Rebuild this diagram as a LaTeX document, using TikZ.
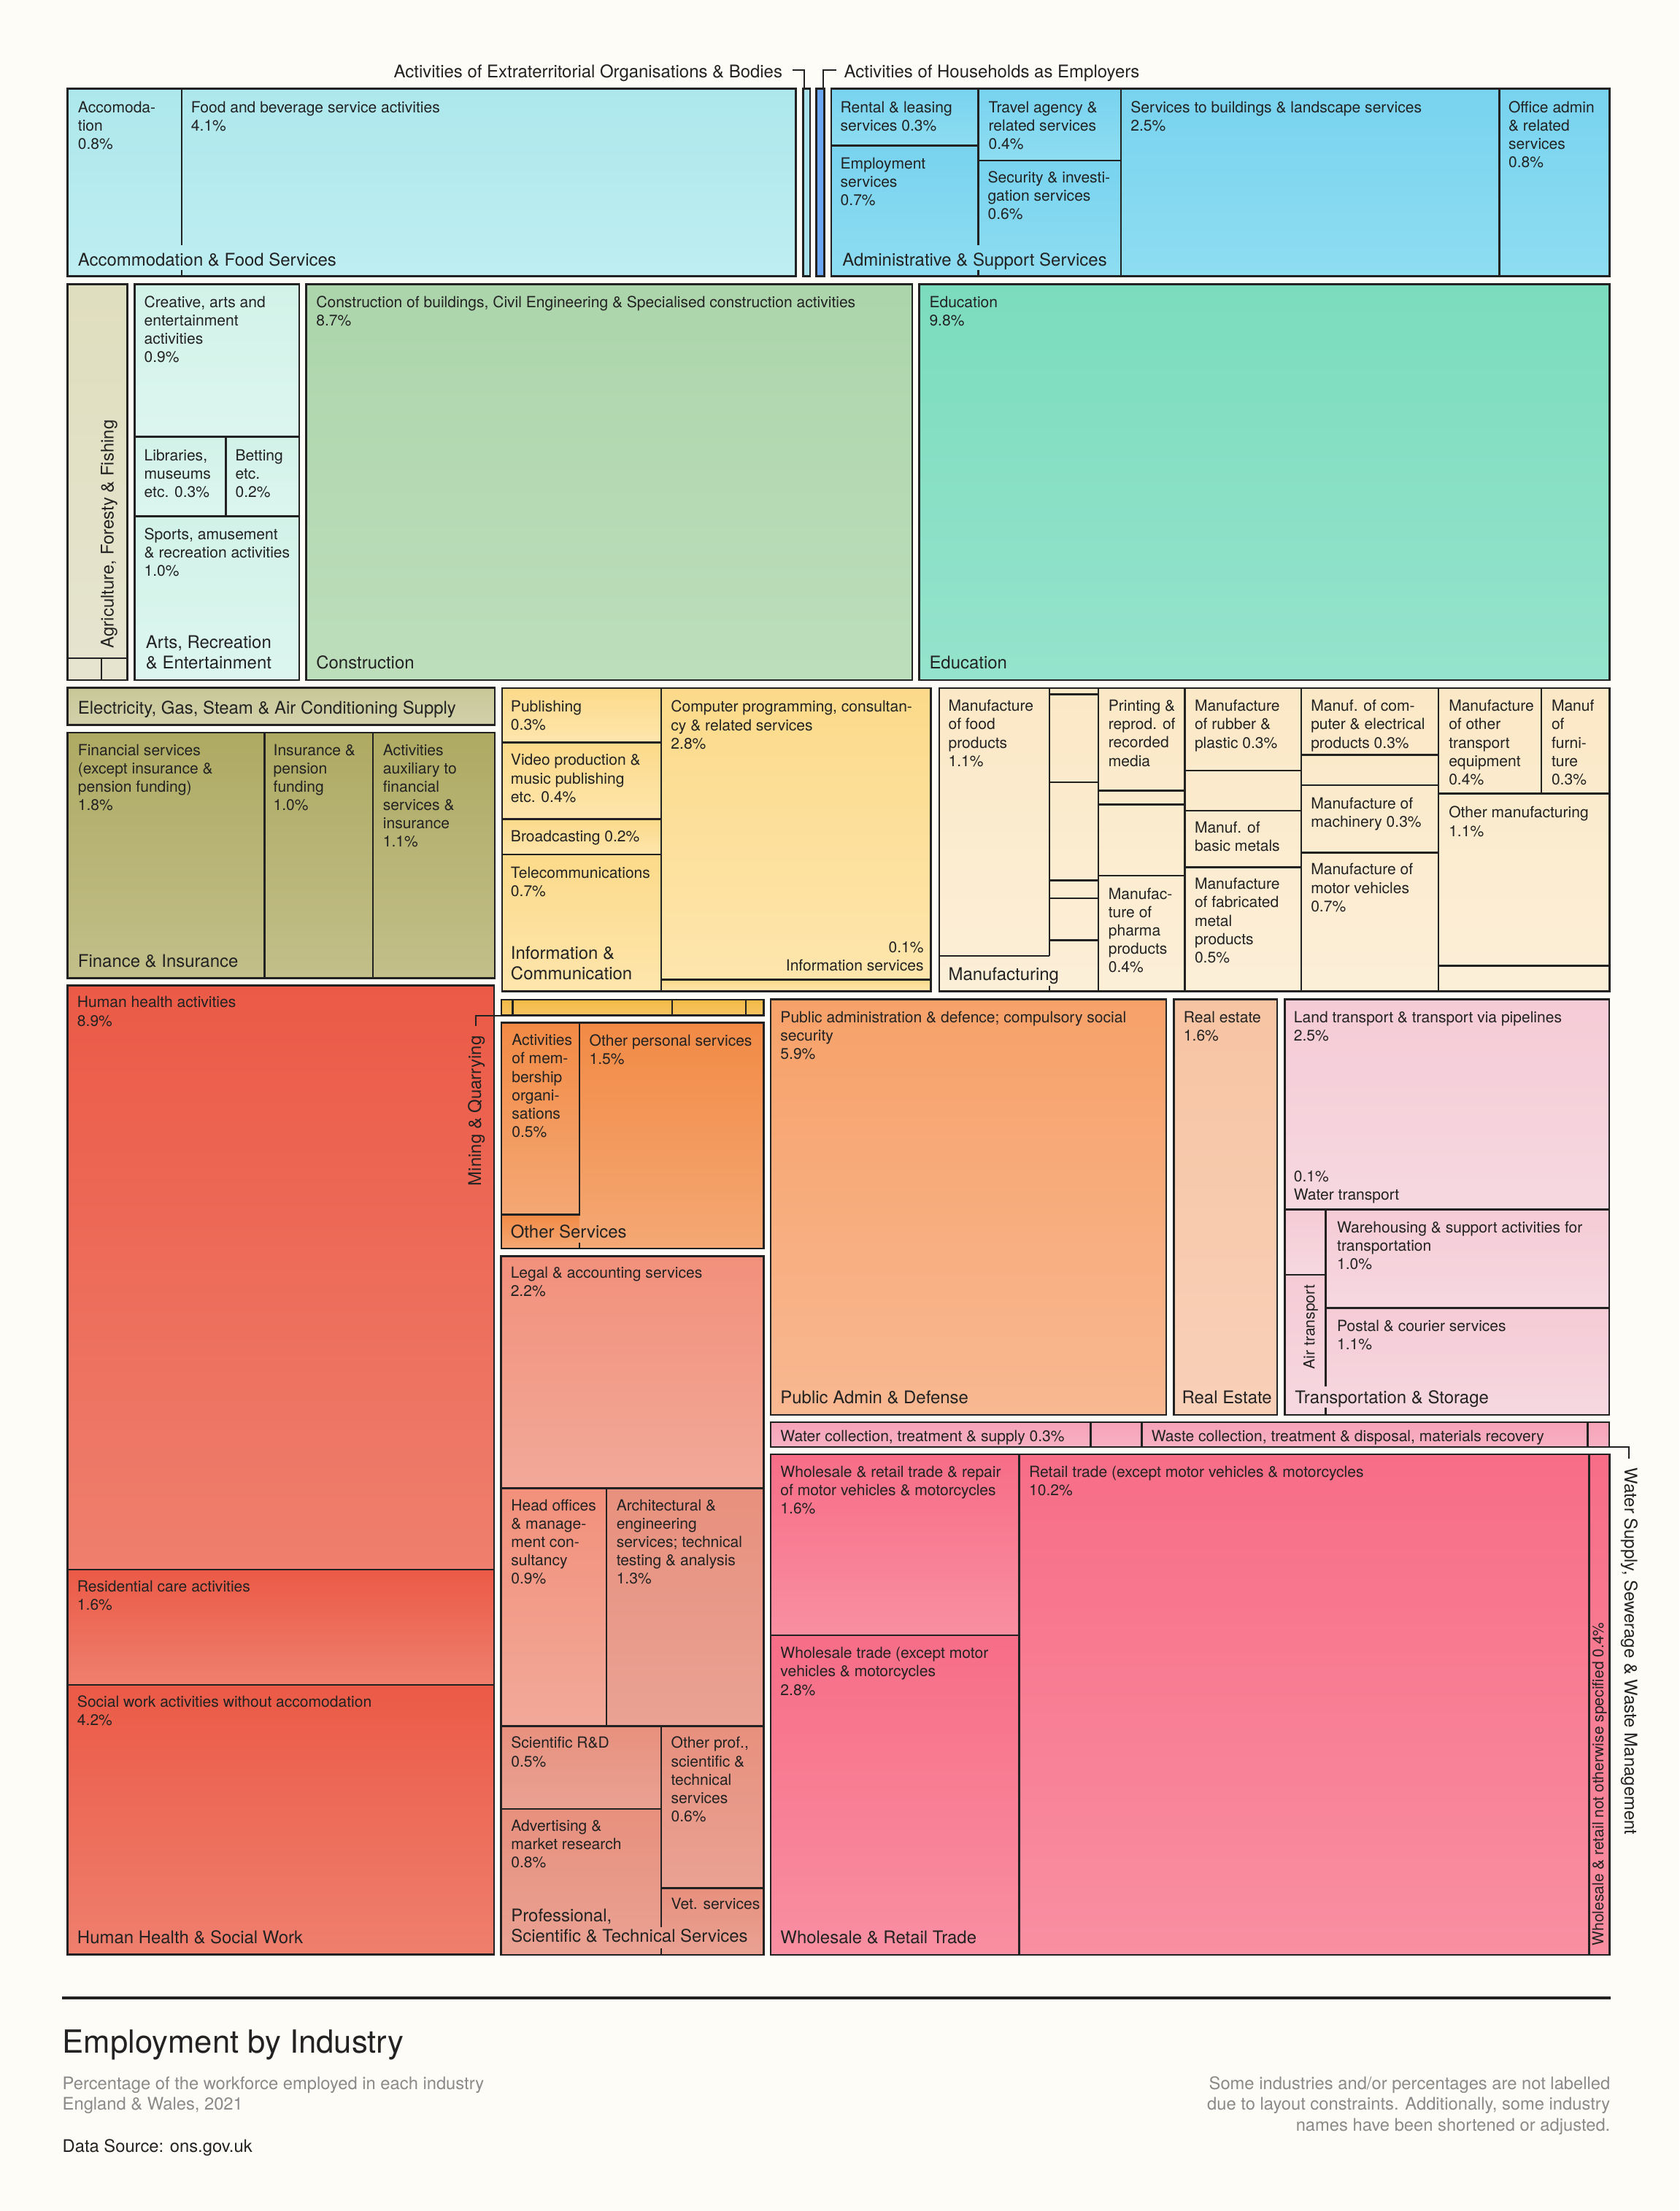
\documentclass[tikz,border=0pt]{standalone}
\usepackage{fontspec}
\setmainfont{TeX Gyre Heros}
\usepackage{xcolor}
\usepackage{tikz}
\usetikzlibrary{positioning}

\definecolor{paper}{HTML}{FDFCF6}
\definecolor{ink}{HTML}{222222}
\definecolor{note}{HTML}{8A8A8A}
\definecolor{accT}{HTML}{ADE7EC}
\definecolor{accB}{HTML}{BEEEF1}
\definecolor{extra}{HTML}{A8E2EC}
\definecolor{house}{HTML}{6BA6F2}
\definecolor{admT}{HTML}{78D3EF}
\definecolor{admB}{HTML}{8EDDF1}
\definecolor{agrT}{HTML}{DFDEBE}
\definecolor{agrB}{HTML}{E6E4CF}
\definecolor{artT}{HTML}{D2F2E8}
\definecolor{artB}{HTML}{DCF6EF}
\definecolor{conT}{HTML}{ACD5AB}
\definecolor{conB}{HTML}{BDDEBB}
\definecolor{eduT}{HTML}{7BDCBD}
\definecolor{eduB}{HTML}{95E3CC}
\definecolor{eleT}{HTML}{C9C899}
\definecolor{eleB}{HTML}{D1D0A9}
\definecolor{finT}{HTML}{AEAA63}
\definecolor{finB}{HTML}{C2BF8A}
\definecolor{infT}{HTML}{FCDA8A}
\definecolor{infB}{HTML}{FDE5AC}
\definecolor{manT}{HTML}{FBE8C6}
\definecolor{manB}{HTML}{FCEFD8}
\definecolor{minT}{HTML}{F3BA45}
\definecolor{minB}{HTML}{F5C463}
\definecolor{othT}{HTML}{F28A45}
\definecolor{othB}{HTML}{F4A874}
\definecolor{proT}{HTML}{F2907B}
\definecolor{proB}{HTML}{F2A999}
\definecolor{prbT}{HTML}{E8907E}
\definecolor{prbB}{HTML}{E9A293}
\definecolor{pubT}{HTML}{F7A169}
\definecolor{pubB}{HTML}{F8B891}
\definecolor{reaT}{HTML}{F7C4A3}
\definecolor{reaB}{HTML}{F8D0B8}
\definecolor{traT}{HTML}{F5CBD6}
\definecolor{traB}{HTML}{F6D8E0}
\definecolor{watT}{HTML}{F6A2B7}
\definecolor{watB}{HTML}{F8B2C3}
\definecolor{whoT}{HTML}{F76D87}
\definecolor{whoB}{HTML}{F98FA2}
\definecolor{heaT}{HTML}{EB5A46}
\definecolor{heaB}{HTML}{EF7F6E}

\begin{document}
\begin{tikzpicture}[x=1pt,y=-1pt,
  box/.style={draw=ink,line width=1.3pt},
  lead/.style={draw=ink,line width=1.1pt},
  leaftxt/.style={anchor=north west,inner sep=0pt,align=left,text=ink,font=\fontsize{10.9}{13}\selectfont},
  grptxt/.style={anchor=north west,inner sep=0pt,align=left,text=ink,font=\fontsize{12.4}{14.5}\selectfont},
  sidetxt/.style={inner sep=0pt,text=ink,font=\fontsize{12.4}{14.5}\selectfont},
  foot/.style={inner sep=0pt,text=note,font=\fontsize{12.3}{14.7}\selectfont},
  accom/.style={top color=accT,bottom color=accB},
  admin/.style={top color=admT,bottom color=admB},
  agri/.style={top color=agrT,bottom color=agrB},
  arts/.style={top color=artT,bottom color=artB},
  constr/.style={top color=conT,bottom color=conB},
  educ/.style={top color=eduT,bottom color=eduB},
  elec/.style={top color=eleT,bottom color=eleB},
  finan/.style={top color=finT,bottom color=finB},
  infor/.style={top color=infT,bottom color=infB},
  manuf/.style={top color=manT,bottom color=manB},
  mining/.style={top color=minT,bottom color=minB},
  others/.style={top color=othT,bottom color=othB},
  profA/.style={top color=proT,bottom color=proB},
  profB/.style={top color=prbT,bottom color=prbB},
  pubad/.style={top color=pubT,bottom color=pubB},
  realest/.style={top color=reaT,bottom color=reaB},
  transp/.style={top color=traT,bottom color=traB},
  water/.style={top color=watT,bottom color=watB},
  trade/.style={top color=whoT,bottom color=whoB},
  health/.style={top color=heaT,bottom color=heaB}]
\useasboundingbox (0,0) rectangle (1192,1569.6);
\fill[paper] (0,0) rectangle (1192,1569.6);

% accommodation & food
\shade[accom] (48,63) rectangle (129,196);
\shade[accom] (129,63) rectangle (565,196);
\draw[box] (129,63) -- (129,174.2) (129,191.5) -- (129,196);
\draw[box] (48,63) rectangle (565,196);
\node[leaftxt] (acc-room) at (55.2,71.7) {Accomoda-\\tion\\0.8\%};
\node[leaftxt] (acc-food) at (135.5,71.7) {Food and beverage service activities\\4.1\%};
\node[grptxt] (acc) at (55.2,179.2) {Accommodation \& Food Services};

% extraterritorial + households
\draw[box,fill=extra] (570,63) rectangle (575,196);
\draw[box,fill=house] (579.5,63) rectangle (585,196);
\node[sidetxt,anchor=north east] (extra) at (555.5,45.8) {Activities of Extraterritorial Organisations \& Bodies};
\node[sidetxt,anchor=north west] (house) at (599,45.8) {Activities of Households as Employers};
\coordinate (extra-end) at (562.5,49.9);
\coordinate (extra-bar) at (571,63);
\coordinate (house-end) at (593.4,49.9);
\coordinate (house-bar) at (584.5,63);
\draw[lead] (extra-end) -| (extra-bar);
\draw[lead] (house-end) -| (house-bar);

% administrative & support
\shade[admin] (590,63) rectangle (694.3,103.4);
\shade[admin] (590,103.4) rectangle (694.3,196);
\shade[admin] (694.3,63) rectangle (795.7,114);
\shade[admin] (694.3,114) rectangle (795.7,196);
\shade[admin] (795.7,63) rectangle (1064.2,196);
\shade[admin] (1064.2,63) rectangle (1142.5,196);
\draw[box] (590,103.4) -- (694.3,103.4) (694.3,114) -- (795.7,114) (795.7,63) -- (795.7,196) (1064.2,63) -- (1064.2,196)
  (694.3,63) -- (694.3,174.2) (694.3,191.5) -- (694.3,196);
\draw[box] (590,63) rectangle (1142.5,196);
\node[leaftxt] (adm-rent) at (596.4,71.7) {Rental \& leasing\\services 0.3\%};
\node[leaftxt] (adm-employ) at (596.4,111.9) {Employment\\services\\0.7\%};
\node[leaftxt] (adm-travel) at (701.5,71.7) {Travel agency \&\\related services\\0.4\%};
\node[leaftxt] (adm-secure) at (701,121.4) {Security \& investi-\\gation services\\0.6\%};
\node[leaftxt] (adm-build) at (802.4,71.7) {Services to buildings \& landscape services\\2.5\%};
\node[leaftxt] (adm-office) at (1070.6,71.7) {Office admin\\\& related\\services\\0.8\%};
\node[grptxt] (adm) at (597.8,179.2) {Administrative \& Support Services};

% agriculture
\draw[box,agri] (48,201.7) rectangle (90.3,482.9);
\draw[box] (48,467.3) -- (90.3,467.3) (71.9,467.3) -- (71.9,482.9);
\node[sidetxt,rotate=90,anchor=west] (agr) at (77.4,460.3) {Agriculture, Foresty \& Fishing};

% arts, recreation & entertainment
\draw[box,arts] (95.6,201.7) rectangle (212.3,310);
\draw[box,arts] (95.6,310) rectangle (160.3,366.5);
\draw[box,arts] (160.3,310) rectangle (212.3,366.5);
\draw[box,arts] (95.6,366.5) rectangle (212.3,482.9);
\node[leaftxt] (art-creative) at (102.2,210) {Creative, arts and\\entertainment\\activities\\0.9\%};
\node[leaftxt] (art-library) at (102.2,318.9) {Libraries,\\museums\\etc. 0.3\%};
\node[leaftxt] (art-betting) at (166.9,318.9) {Betting\\etc.\\0.2\%};
\node[leaftxt] (art-sports) at (102.2,374.8) {Sports, amusement\\\& recreation activities\\1.0\%};
\node[grptxt] (art) at (103.4,451) {Arts, Recreation\\\& Entertainment};

% construction
\draw[box,constr] (217.3,201.7) rectangle (647.5,482.9);
\node[leaftxt] (con-build) at (224.3,210) {Construction of buildings, Civil Engineering \& Specialised construction activities\\8.7\%};
\node[grptxt] (con) at (224.3,465.5) {Construction};

% education
\draw[box,educ] (652.5,201.7) rectangle (1142.5,482.9);
\node[leaftxt] (edu-all) at (659.5,210) {Education\\9.8\%};
\node[grptxt] (edu) at (659.5,465.5) {Education};

% electricity
\draw[box,elec] (48,488.3) rectangle (351.1,514.6);
\node[grptxt] (ele) at (55.2,497.6) {Electricity, Gas, Steam \& Air Conditioning Supply};

% finance & insurance
\draw[box,finan] (48,520.1) rectangle (187.8,694.5);
\draw[box,finan] (187.8,520.1) rectangle (264.8,694.5);
\draw[box,finan] (264.8,520.1) rectangle (351.1,694.5);
\node[leaftxt] (fin-serv) at (55.2,528.2) {Financial services\\(except insurance \&\\pension funding)\\1.8\%};
\node[leaftxt] (fin-ins) at (193.9,528.2) {Insurance \&\\pension\\funding\\1.0\%};
\node[leaftxt] (fin-aux) at (271.7,528.2) {Activities\\auxiliary to\\financial\\services \&\\insurance\\1.1\%};
\node[grptxt] (fin) at (55.2,677.6) {Finance \& Insurance};

% information & communication
\draw[box,infor] (356.4,488.5) rectangle (469.2,527);
\draw[box,infor] (356.4,527) rectangle (469.2,581.4);
\draw[box,infor] (356.4,581.4) rectangle (469.2,606.6);
\draw[box,infor] (356.4,606.6) rectangle (469.2,703.6);
\draw[box,infor] (469.2,488.5) rectangle (660.7,695.4);
\draw[box,infor] (469.2,695.4) rectangle (660.7,703.6);
\node[leaftxt] (inf-pub) at (362.4,497.2) {Publishing\\0.3\%};
\node[leaftxt] (inf-video) at (362.4,535.2) {Video production \&\\music publishing\\etc. 0.4\%};
\node[leaftxt] (inf-broad) at (362.4,589.5) {Broadcasting 0.2\%};
\node[leaftxt] (inf-tele) at (362.4,615.1) {Telecommunications\\0.7\%};
\node[leaftxt] (inf-comp) at (476.1,497.2) {Computer programming, consultan-\\cy \& related services\\2.8\%};
\node[leaftxt,anchor=north east,align=right] (inf-serv) at (655.8,668.1) {0.1\%\\Information services};
\node[grptxt] (inf) at (362.4,671.5) {Information \&\\Communication};

% manufacturing
\shade[manuf] (666.7,488.5) rectangle (1142.5,703.6);
\foreach \x in {779.7,840.9,923.7,1021} \draw[box] (\x,488.5) -- (\x,703.6);
\draw[box] (744.8,488.5) -- (744.8,678.6) (744.8,699.7) -- (744.8,703.6);
\draw[box] (666.7,678.6) -- (744.8,678.6) (1094.1,488.5) -- (1094.1,563.4);
\foreach \y in {493,555.2,625.1,637.7,667.4} \draw[box] (744.8,\y) -- (779.7,\y);
\foreach \y in {561.2,571,621.6} \draw[box] (779.7,\y) -- (840.9,\y);
\foreach \y in {547,575.4,615.6} \draw[box] (840.9,\y) -- (923.7,\y);
\foreach \y in {535.8,557.4,605.2} \draw[box] (923.7,\y) -- (1021,\y);
\foreach \y in {563.4,685.5} \draw[box] (1021,\y) -- (1142.5,\y);
\draw[box] (666.7,488.5) rectangle (1142.5,703.6);
\node[leaftxt] (man-food) at (673,496.8) {Manufacture\\of food\\products\\1.1\%};
\node[leaftxt] (man-print) at (786.6,496.8) {Printing \&\\reprod. of\\recorded\\media};
\node[leaftxt] (man-rubber) at (847.8,496.8) {Manufacture\\of rubber \&\\plastic 0.3\%};
\node[leaftxt] (man-comp) at (930.3,496.8) {Manuf. of com-\\puter \& electrical\\products 0.3\%};
\node[leaftxt] (man-transp) at (1028.2,496.8) {Manufacture\\of other\\transport\\equipment\\0.4\%};
\node[leaftxt] (man-furn) at (1101.1,496.8) {Manuf\\of\\furni-\\ture\\0.3\%};
\node[leaftxt] (man-metal) at (847.8,583.2) {Manuf. of\\basic metals};
\node[leaftxt] (man-mach) at (930.3,565.9) {Manufacture of\\machinery 0.3\%};
\node[leaftxt] (man-other) at (1028.2,572.3) {Other manufacturing\\1.1\%};
\node[leaftxt] (man-pharma) at (786.6,630.1) {Manufac-\\ture of\\pharma\\products\\0.4\%};
\node[leaftxt] (man-fabr) at (847.8,623.2) {Manufacture\\of fabricated\\metal\\products\\0.5\%};
\node[leaftxt] (man-motor) at (930.3,612.9) {Manufacture of\\motor vehicles\\0.7\%};
\node[grptxt] (man) at (673,686.6) {Manufacturing};

% human health & social work
\draw[box,health] (48,699.5) rectangle (350.8,1114.2);
\draw[box,health] (48,1114.2) rectangle (350.8,1196);
\draw[box,health] (48,1196) rectangle (350.8,1387.6);
\node[leaftxt] (hea-human) at (54.7,707.2) {Human health activities\\8.9\%};
\node[leaftxt] (hea-resid) at (54.7,1121.9) {Residential care activities\\1.6\%};
\node[leaftxt] (hea-social) at (54.7,1203.7) {Social work activities without accomodation\\4.2\%};
\node[grptxt] (hea) at (54.7,1370.4) {Human Health \& Social Work};

% mining & quarrying
\draw[box,mining] (356,709.7) rectangle (542.2,720.9);
\foreach \x in {364,477.1,529.3} \draw[box] (\x,709.7) -- (\x,720.9);
\node[sidetxt,rotate=90,anchor=west] (min) at (338.2,842) {Mining \& Quarrying};
\coordinate (min-end) at (337.9,728.3);
\coordinate (min-bar) at (356,720.9);
\draw[lead] (min-end) |- (min-bar);

% other services
\shade[others] (356,726.1) rectangle (411.3,862.2);
\shade[others] (356,862.2) rectangle (411.3,886.2);
\shade[others] (411.3,726.1) rectangle (542.2,886.2);
\draw[box] (356,862.2) -- (411.3,862.2) (411.3,726.1) -- (411.3,863) (411.3,882.4) -- (411.3,886.2);
\draw[box] (356,726.1) rectangle (542.2,886.2);
\node[leaftxt] (oth-member) at (363.1,734.1) {Activities\\of mem-\\bership\\organi-\\sations\\0.5\%};
\node[leaftxt] (oth-personal) at (418.2,734.1) {Other personal services\\1.5\%};
\node[grptxt] (oth) at (362.3,869.2) {Other Services};

% professional, scientific & technical
\shade[profA] (355.7,891.7) rectangle (542.2,1056.5);
\shade[profA] (355.7,1056.5) rectangle (430.5,1225.3);
\shade[profB] (430.5,1056.5) rectangle (542.2,1225.3);
\shade[profB] (355.7,1225.3) rectangle (469.2,1284.2);
\shade[profB] (355.7,1284.2) rectangle (469.2,1387.8);
\shade[profB] (469.2,1225.3) rectangle (542.2,1340.4);
\shade[profB] (469.2,1340.4) rectangle (542.2,1387.8);
\draw[box] (355.7,1056.5) -- (542.2,1056.5) (430.5,1056.5) -- (430.5,1225.3) (355.7,1225.3) -- (542.2,1225.3)
  (355.7,1284.2) -- (469.2,1284.2) (469.2,1340.4) -- (542.2,1340.4)
  (469.2,1225.3) -- (469.2,1368.2) (469.2,1382.9) -- (469.2,1387.8);
\draw[box] (355.7,891.7) rectangle (542.2,1387.8);
\node[leaftxt] (pro-legal) at (362.3,899.2) {Legal \& accounting services\\2.2\%};
\node[leaftxt] (pro-head) at (362.6,1064.4) {Head offices\\\& manage-\\ment con-\\sultancy\\0.9\%};
\node[leaftxt] (pro-arch) at (437.4,1064.4) {Architectural \&\\engineering\\services; technical\\testing \& analysis\\1.3\%};
\node[leaftxt] (pro-rd) at (362.6,1232.8) {Scientific R\&D\\0.5\%};
\node[leaftxt] (pro-adv) at (362.6,1291.7) {Advertising \&\\market research\\0.8\%};
\node[leaftxt] (pro-other) at (476.2,1232.8) {Other prof.,\\scientific \&\\technical\\services\\0.6\%};
\node[leaftxt] (pro-vet) at (476.2,1347.3) {Vet. services};
\node[grptxt] (pro) at (362.6,1355) {Professional,\\Scientific \& Technical Services};

% public admin
\draw[box,pubad] (547.1,709.4) rectangle (827.8,1004.3);
\node[leaftxt] (pub-all) at (553.8,717.7) {Public administration \& defence; compulsory social\\security\\5.9\%};
\node[grptxt] (pub) at (553.8,986.9) {Public Admin \& Defense};

% real estate
\draw[box,realest] (833.3,709.4) rectangle (906.4,1004.3);
\node[leaftxt] (rea-all) at (840,717.7) {Real estate\\1.6\%};
\node[grptxt] (rea) at (838.8,986.9) {Real Estate};

% transportation & storage
\shade[transp] (911.9,709.4) rectangle (1142.3,858.7);
\shade[transp] (911.9,858.7) rectangle (941,904.9);
\shade[transp] (911.9,904.9) rectangle (941,1004.3);
\shade[transp] (941,858.7) rectangle (1142.3,928.5);
\shade[transp] (941,928.5) rectangle (1142.3,1004.3);
\draw[box] (911.9,858.7) -- (1142.3,858.7) (911.9,904.9) -- (941,904.9) (941,928.5) -- (1142.3,928.5)
  (941,858.7) -- (941,984.4) (941,999.4) -- (941,1004.3);
\draw[box] (911.9,709.4) rectangle (1142.3,1004.3);
\node[leaftxt] (tra-land) at (918.2,717.7) {Land transport \& transport via pipelines\\2.5\%};
\node[leaftxt] (tra-water) at (918.2,831) {0.1\%\\Water transport};
\node[leaftxt] (tra-ware) at (948.9,867) {Warehousing \& support activities for\\transportation\\1.0\%};
\node[leaftxt] (tra-post) at (948.9,937.1) {Postal \& courier services\\1.1\%};
\node[leaftxt,rotate=90,anchor=west] (tra-air) at (930.4,972.1) {Air transport};
\node[grptxt] (tra) at (919,986.9) {Transportation \& Storage};

% water supply, sewerage & waste
\draw[box,water] (547.1,1009.5) rectangle (774.3,1027.3);
\draw[box,water] (774.3,1009.5) rectangle (810.5,1027.3);
\draw[box,water] (810.5,1009.5) rectangle (1127,1027.3);
\draw[box,water] (1127,1009.5) rectangle (1142.3,1027.3);
\node[leaftxt] (wat-supply) at (553.8,1015.1) {Water collection, treatment \& supply 0.3\%};
\node[leaftxt] (wat-waste) at (817.2,1015.1) {Waste collection, treatment \& disposal, materials recovery};
\node[sidetxt,rotate=-90,anchor=west] (wat) at (1156.4,1041.8) {Water Supply, Sewerage \& Waste Management};
\coordinate (wat-bar) at (1142.3,1027.3);
\coordinate (wat-end) at (1156.4,1035.4);
\draw[lead] (wat-bar) -| (wat-end);

% wholesale & retail
\draw[box,trade] (547.1,1032.4) rectangle (723.5,1160.8);
\draw[box,trade] (547.1,1160.8) rectangle (723.5,1387.8);
\draw[box,trade] (723.5,1032.4) rectangle (1127.9,1387.8);
\draw[box,trade] (1127.9,1032.4) rectangle (1142.5,1387.8);
\node[leaftxt] (who-repair) at (553.8,1040.7) {Wholesale \& retail trade \& repair\\of motor vehicles \& motorcycles\\1.6\%};
\node[leaftxt] (who-sale) at (553.8,1169.2) {Wholesale trade (except motor\\vehicles \& motorcycles\\2.8\%};
\node[leaftxt] (who-retail) at (730.3,1040.7) {Retail trade (except motor vehicles \& motorcycles\\10.2\%};
\node[leaftxt,rotate=90,anchor=west] (who-nos) at (1135.4,1381.4) {Wholesale \& retail not otherwise specified 0.4\%};
\node[grptxt] (who) at (553.8,1370.6) {Wholesale \& Retail Trade};

% footer
\draw[ink,line width=1.8pt] (44.2,1418.2) -- (1143.1,1418.2);
\node[anchor=base west,inner sep=0pt,text=ink,font=\fontsize{22.6}{27}\selectfont] (title) at (44.2,1457.4) {Employment by Industry};
\node[foot,anchor=north west,align=left] (subtitle) at (44.2,1474) {Percentage of the workforce employed in each industry\\England \& Wales, 2021};
\node[foot,anchor=base west,text=ink] (source) at (44.2,1527.8) {Data Source: ons.gov.uk};
\node[foot,anchor=north east,align=right] (remark) at (1143.1,1474) {Some industries and/or percentages are not labelled\\due to layout constraints. Additionally, some industry\\names have been shortened or adjusted.};
\end{tikzpicture}
\end{document}
